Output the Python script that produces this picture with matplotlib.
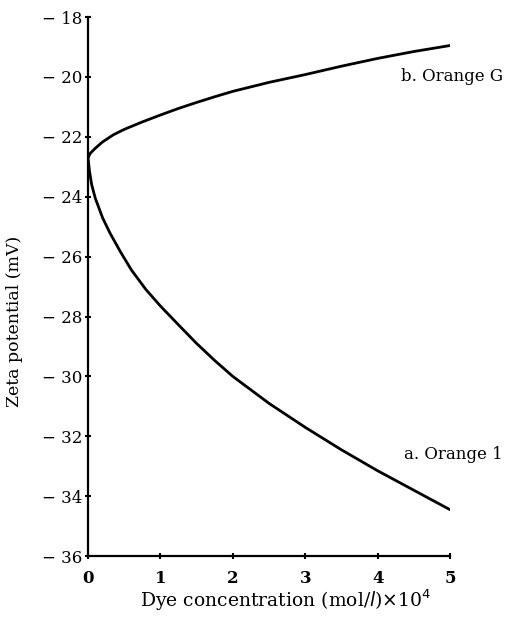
import matplotlib
matplotlib.use("Agg")
import matplotlib.pyplot as plt

# Zeta potential vs dye concentration
conc_a = [0, 0.02, 0.05, 0.1, 0.2, 0.3, 0.45, 0.6, 0.8, 1.0, 1.25, 1.5, 1.75, 2.0,
          2.5, 3.0, 3.5, 4.0, 4.5, 5.0]
orange_1 = [-22.7, -23.15, -23.6, -24.05, -24.7, -25.2, -25.85, -26.45, -27.1, -27.65,
            -28.28, -28.9, -29.47, -30.0, -30.9, -31.7, -32.45, -33.15, -33.8, -34.45]

conc_b = [0, 0.03, 0.1, 0.2, 0.35, 0.5, 0.75, 1.0, 1.25, 1.5, 1.75, 2.0, 2.5, 3.0,
          3.5, 4.0, 4.5, 5.0]
orange_g = [-22.7, -22.55, -22.38, -22.17, -21.93, -21.75, -21.5, -21.27, -21.05,
            -20.85, -20.66, -20.48, -20.18, -19.92, -19.64, -19.38, -19.15, -18.95]

x_ticks = [0, 1, 2, 3, 4, 5]
y_ticks = [-36, -34, -32, -30, -28, -26, -24, -22, -20, -18]

plt.rcParams['font.family'] = ['DejaVu Serif']

fig = plt.figure(figsize=(5.15, 6.32), dpi=100)
ax = fig.add_axes([0.171, 0.120, 0.703, 0.853])

ax.plot(conc_a, orange_1, color='black', lw=2.0, solid_capstyle='round', solid_joinstyle='round')
ax.plot(conc_b, orange_g, color='black', lw=2.0, solid_capstyle='round', solid_joinstyle='round')

ax.set_xlim(0, 5)
ax.set_ylim(-36, -18)
ax.spines['top'].set_visible(False)
ax.spines['right'].set_visible(False)
for s in ('left', 'bottom'):
    ax.spines[s].set_linewidth(1.6)

ax.set_xticks(x_ticks)
ax.set_xticklabels([str(v) for v in x_ticks], fontsize=12, fontweight='bold')
ax.set_yticks(y_ticks)
ax.set_yticklabels([f"\u2212 {abs(v)}" for v in y_ticks], fontsize=12)
ax.tick_params(direction='inout', length=4, width=1.5)
ax.tick_params(axis='y', pad=2)
ax.tick_params(axis='x', pad=8)

ax.set_xlabel(r"Dye concentration (mol/$\mathit{l}$)$\times$10$^4$", fontsize=13.5)
ax.set_ylabel("Zeta potential (mV)", fontsize=12.5)
ax.xaxis.label.set_va('center')
ax.xaxis.set_label_coords(0.545, -0.082)
ax.yaxis.set_label_coords(-0.179, 0.436)

ax.text(5.73, -19.97, "b. Orange G", fontsize=12, ha='right', va='center')
ax.text(5.73, -32.59, "a. Orange 1", fontsize=12, ha='right', va='center')

fig.savefig("out.png", dpi=100, facecolor='white')
